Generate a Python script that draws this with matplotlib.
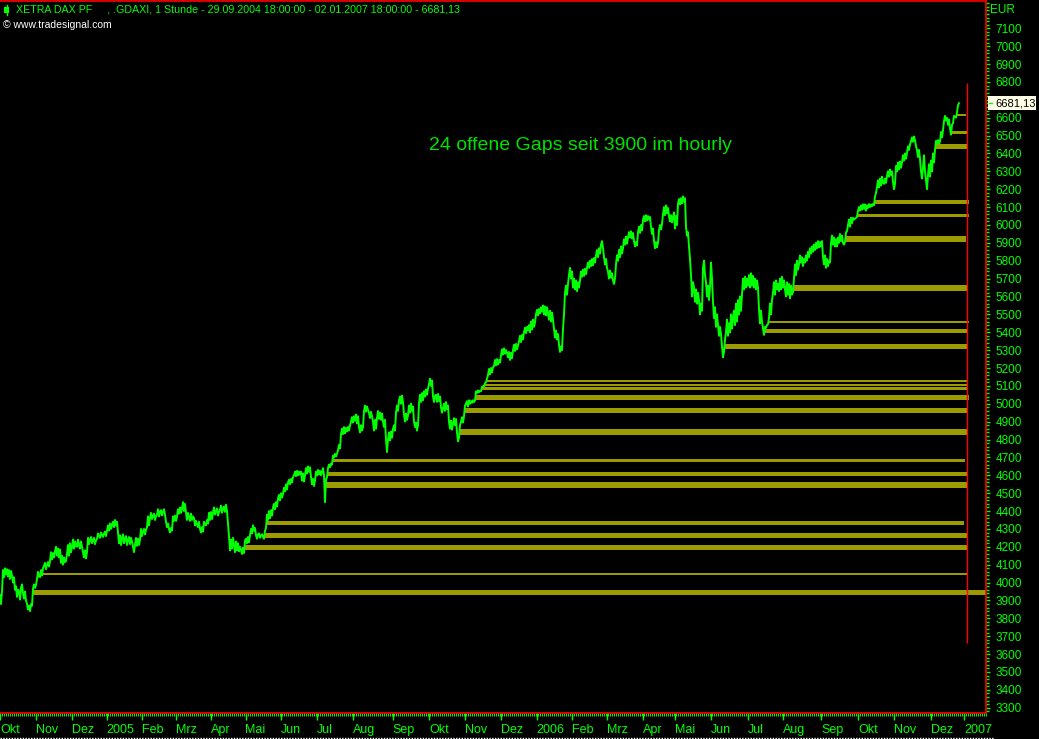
import numpy as np
import matplotlib
matplotlib.use("Agg")
import matplotlib.pyplot as plt
from matplotlib.ticker import MultipleLocator
from matplotlib.transforms import blended_transform_factory
from matplotlib.lines import Line2D
from matplotlib.patches import Rectangle

# ---------------- DATA ----------------
# x positions are chart bar-block positions (one block ~ 5 hourly bars), starting 29.09.2004
dax_part01 = [3930, 3880, 3950, 4070, 4030, 4080, 4045, 4075, 4035, 4070,
              4020, 4065, 4040, 4000, 4030, 3960, 3980, 3920, 3960, 3950,
              3905, 3970, 3990, 3940, 3910, 3950, 3900, 3880, 3850, 3870,
              3840, 3880, 3870, 3965, 3990, 3970, 3985, 4020, 4060, 4035,
              4030, 4070, 4040, 4080, 4095, 4110, 4075, 4100, 4115, 4090,
              4120, 4170, 4130, 4165, 4140, 4175, 4200, 4150, 4190, 4140]
dax_part02 = [4185, 4110, 4150, 4100, 4140, 4115, 4120, 4160, 4210, 4150,
              4220, 4170, 4200, 4240, 4190, 4230, 4205, 4200, 4240, 4210,
              4190, 4230, 4200, 4170, 4140, 4180, 4135, 4170, 4250, 4215,
              4240, 4255, 4220, 4240, 4250, 4215, 4235, 4245, 4275, 4260,
              4250, 4280, 4265, 4255, 4275, 4285, 4260, 4290, 4320, 4290,
              4330, 4300, 4325, 4340, 4310, 4350, 4320, 4340, 4280, 4220]
dax_part03 = [4265, 4210, 4250, 4270, 4220, 4245, 4260, 4210, 4240, 4255,
              4215, 4250, 4230, 4200, 4170, 4210, 4250, 4205, 4245, 4210,
              4240, 4300, 4260, 4285, 4300, 4270, 4295, 4310, 4370, 4320,
              4360, 4390, 4355, 4375, 4385, 4350, 4370, 4380, 4410, 4370,
              4395, 4405, 4375, 4395, 4410, 4380, 4340, 4310, 4330, 4300,
              4280, 4305, 4290, 4370, 4345, 4375, 4345, 4370, 4410, 4385]
dax_part04 = [4420, 4390, 4415, 4450, 4400, 4440, 4390, 4350, 4390, 4365,
              4345, 4385, 4350, 4370, 4360, 4320, 4345, 4325, 4310, 4340,
              4300, 4280, 4310, 4285, 4340, 4325, 4320, 4350, 4330, 4390,
              4350, 4395, 4355, 4390, 4420, 4380, 4400, 4415, 4375, 4395,
              4410, 4430, 4390, 4415, 4425, 4395, 4435, 4400, 4330, 4260,
              4180, 4240, 4190, 4250, 4210, 4170, 4230, 4180, 4220, 4175]
dax_part05 = [4200, 4185, 4160, 4195, 4165, 4235, 4245, 4220, 4255, 4225,
              4265, 4300, 4275, 4320, 4290, 4305, 4265, 4245, 4270, 4275,
              4250, 4265, 4270, 4255, 4245, 4290, 4305, 4380, 4350, 4400,
              4360, 4405, 4375, 4420, 4440, 4410, 4450, 4425, 4470, 4490,
              4460, 4500, 4475, 4495, 4530, 4510, 4550, 4520, 4560, 4575,
              4550, 4580, 4560, 4590, 4600, 4620, 4595, 4625, 4600, 4620]
dax_part06 = [4605, 4620, 4570, 4610, 4565, 4600, 4640, 4610, 4650, 4620,
              4645, 4590, 4550, 4580, 4540, 4570, 4620, 4600, 4630, 4605,
              4625, 4600, 4620, 4640, 4600, 4450, 4575, 4590, 4640, 4660,
              4645, 4665, 4660, 4710, 4700, 4720, 4705, 4720, 4740, 4770,
              4750, 4830, 4860, 4830, 4870, 4835, 4865, 4845, 4870, 4850,
              4880, 4900, 4925, 4895, 4930, 4905, 4940, 4890, 4930, 4870]
dax_part07 = [4840, 4880, 4850, 4870, 4960, 4990, 4955, 4985, 4965, 4950,
              4920, 4955, 4930, 4900, 4850, 4910, 4860, 4920, 4960, 4915,
              4950, 4910, 4945, 4900, 4870, 4910, 4800, 4730, 4800, 4840,
              4795, 4845, 4810, 4860, 4880, 4850, 4950, 4990, 4960, 5020,
              5040, 5000, 5045, 5010, 4940, 4900, 4945, 4910, 4935, 4990,
              4950, 5000, 4960, 4985, 4900, 4870, 4895, 4850, 4880, 5000]
dax_part08 = [5050, 5010, 5060, 5020, 5070, 5040, 5080, 5050, 5085, 5110,
              5140, 5100, 5130, 5040, 5010, 5045, 5050, 5010, 5055, 5015,
              5040, 4980, 4950, 4975, 5000, 4960, 5010, 4970, 4990, 4900,
              4860, 4905, 4855, 4890, 4920, 4880, 4915, 4840, 4790, 4810,
              4880, 4900, 4925, 4895, 4930, 4990, 5000, 5015, 4985, 5020,
              5000, 5015, 5005, 5020, 5010, 5018, 5070, 5060, 5075, 5065]
dax_part09 = [5072, 5070, 5095, 5098, 5097, 5115, 5120, 5140, 5160, 5195,
              5165, 5200, 5175, 5205, 5210, 5245, 5215, 5250, 5220, 5245,
              5230, 5270, 5305, 5275, 5310, 5280, 5300, 5285, 5260, 5290,
              5245, 5285, 5255, 5300, 5330, 5295, 5335, 5305, 5325, 5350,
              5380, 5345, 5385, 5360, 5400, 5425, 5395, 5430, 5410, 5440,
              5400, 5460, 5415, 5470, 5430, 5455, 5500, 5525, 5495, 5530]
dax_part10 = [5505, 5540, 5515, 5550, 5500, 5545, 5495, 5540, 5505, 5470,
              5520, 5460, 5510, 5470, 5420, 5370, 5410, 5360, 5390, 5330,
              5290, 5320, 5300, 5420, 5500, 5620, 5660, 5610, 5670, 5720,
              5760, 5700, 5740, 5650, 5700, 5640, 5690, 5630, 5680, 5650,
              5690, 5740, 5710, 5750, 5715, 5755, 5725, 5760, 5790, 5760,
              5800, 5770, 5810, 5775, 5815, 5790, 5830, 5860, 5820, 5870]
dax_part11 = [5840, 5890, 5910, 5870, 5820, 5780, 5810, 5760, 5740, 5700,
              5745, 5705, 5730, 5690, 5670, 5700, 5780, 5830, 5800, 5860,
              5820, 5880, 5840, 5870, 5920, 5890, 5935, 5895, 5930, 5960,
              5930, 5965, 5925, 5955, 5910, 5880, 5905, 5885, 5960, 5990,
              5955, 6000, 5970, 6030, 6050, 6020, 6055, 6025, 6050, 6030,
              6045, 5990, 5950, 5980, 5910, 5870, 5905, 5875, 5900, 5970]
dax_part12 = [6000, 5975, 6005, 6060, 6100, 6055, 6110, 6065, 6095, 6050,
              6020, 6055, 6015, 6040, 6070, 5980, 6050, 6000, 6120, 6145,
              6115, 6150, 6120, 6160, 6130, 6150, 5990, 5940, 5960, 5880,
              5810, 5720, 5600, 5680, 5650, 5570, 5640, 5560, 5620, 5580,
              5500, 5560, 5520, 5760, 5800, 5720, 5680, 5600, 5660, 5580,
              5650, 5790, 5700, 5570, 5480, 5540, 5430, 5500, 5440, 5380]
dax_part13 = [5430, 5390, 5320, 5260, 5290, 5360, 5400, 5470, 5380, 5450,
              5400, 5500, 5420, 5480, 5520, 5440, 5560, 5460, 5580, 5500,
              5600, 5520, 5610, 5700, 5640, 5710, 5650, 5700, 5660, 5720,
              5650, 5730, 5660, 5715, 5650, 5700, 5640, 5690, 5650, 5530,
              5450, 5520, 5460, 5420, 5385, 5430, 5425, 5440, 5445, 5480,
              5560, 5500, 5580, 5620, 5680, 5610, 5690, 5640, 5670, 5630]
dax_part14 = [5700, 5640, 5710, 5650, 5690, 5640, 5600, 5680, 5610, 5670,
              5590, 5660, 5610, 5625, 5700, 5780, 5720, 5800, 5750, 5780,
              5830, 5790, 5820, 5770, 5810, 5790, 5830, 5800, 5850, 5820,
              5870, 5840, 5880, 5850, 5890, 5860, 5900, 5870, 5910, 5875,
              5905, 5880, 5910, 5820, 5780, 5830, 5760, 5810, 5770, 5800,
              5790, 5900, 5940, 5890, 5930, 5880, 5920, 5880, 5930, 5900]
dax_part15 = [5950, 5910, 5940, 5900, 5890, 5905, 5960, 5965, 6000, 6030,
              5990, 6040, 6010, 6040, 6030, 6035, 6040, 6045, 6080, 6100,
              6080, 6110, 6085, 6115, 6090, 6115, 6080, 6110, 6095, 6117,
              6100, 6115, 6105, 6117, 6110, 6160, 6180, 6210, 6250, 6210,
              6260, 6220, 6270, 6235, 6230, 6260, 6235, 6275, 6300, 6270,
              6310, 6280, 6300, 6240, 6200, 6230, 6330, 6300, 6350, 6310]
dax_part16 = [6355, 6320, 6350, 6390, 6360, 6400, 6370, 6405, 6440, 6420,
              6450, 6470, 6490, 6465, 6495, 6475, 6440, 6420, 6380, 6420,
              6370, 6300, 6260, 6320, 6390, 6300, 6250, 6200, 6280, 6340,
              6270, 6360, 6300, 6400, 6350, 6420, 6470, 6455, 6475, 6455,
              6465, 6520, 6490, 6530, 6580, 6610, 6585, 6600, 6560, 6590,
              6540, 6505, 6560, 6570, 6610, 6605, 6600, 6630, 6670, 6681.13]

last_price = 6681.13

# open gaps: start position, lower/upper price, end position
gap_start = [487, 485, 482, 476, 465, 460, 333, 328, 326, 267, 265, 245,
             43, 33, 875, 858, 846, 794, 769, 765, 725, 957, 952, 936]
gap_low = [5122, 5100, 5077, 5021, 4948, 4825, 4674, 4597, 4529, 4322, 4250, 4183,
           4043, 3931, 6117, 6045, 5905, 5631, 5452, 5396, 5306, 6609, 6509, 6425]
gap_high = [5133, 5111, 5092, 5049, 4976, 4859, 4692, 4620, 4563, 4345, 4278, 4211,
            4054, 3959, 6139, 6061, 5938, 5664, 5463, 5418, 5334, 6620, 6525, 6453]
gap_end = [967, 967, 967, 969, 967, 967, 965, 967, 967, 964, 967, 967,
           967, 990, 969, 969, 966, 967, 969, 967, 967, 966, 967, 967]

month_pos = [0, 36, 72, 106.7, 141.7, 176, 210.5, 245.5, 281, 317, 353.3, 392.7,
             429.3, 464.7, 501.3, 536.7, 572, 606.7, 643.3, 675.3, 710.7, 748,
             783.3, 821.3, 858, 894, 930.7, 964]
month_labels = ["Okt", "Nov", "Dez", "2005", "Feb", "Mrz", "Apr", "Mai", "Jun", "Jul",
                "Aug", "Sep", "Okt", "Nov", "Dez", "2006", "Feb", "Mrz", "Apr", "Mai",
                "Jun", "Jul", "Aug", "Sep", "Okt", "Nov", "Dez", "2007"]
y_ticks = list(range(3300, 7101, 100))
hidden_y_label = 6700   # covered by the last-price box in the reference

end_marker_pos = 967
end_marker_low, end_marker_high = 3663, 6794

# ---------------- STYLE ----------------
GREEN = "#00ff00"
OLIVE = "#9c9c00"
RED = "#ff0000"
FONT = ["Liberation Sans", "DejaVu Sans"]
plt.rcParams["font.family"] = FONT

dax = np.concatenate([dax_part01, dax_part02, dax_part03, dax_part04,
                      dax_part05, dax_part06, dax_part07, dax_part08,
                      dax_part09, dax_part10, dax_part11, dax_part12,
                      dax_part13, dax_part14, dax_part15, dax_part16]).astype(float)
xpos = np.arange(len(dax))

W, H = 1039, 739
fig = plt.figure(figsize=(W / 100, H / 100), dpi=100, facecolor="black")
ax = fig.add_axes([0, 26 / H, 986 / W, 712 / H])
ax.set_facecolor("black")
ax.set_xlim(0, 986)
ax.set_ylim(3270.5, 7252.7)

# gaps
gs = np.array(gap_start, float)
ge = np.array(gap_end, float)
gl = np.array(gap_low, float)
gh = np.array(gap_high, float)
ax.barh((gl + gh) / 2, ge - gs, height=gh - gl, left=gs, color=OLIVE,
        linewidth=0, zorder=1)

# price line
ax.plot(xpos, dax, color=GREEN, lw=1.4, zorder=3)

# red end marker line
ax.vlines(end_marker_pos, end_marker_low, end_marker_high, colors=RED, lw=1, zorder=4)

# annotation
ax.text(580, 6442, "24 offene Gaps seit 3900 im hourly", color="#00e000",
        fontsize=14, ha="center", va="center", zorder=5)

# spines
for s in ["top", "right", "bottom"]:
    ax.spines[s].set_color(RED)
    ax.spines[s].set_linewidth(1.2)
ax.spines["left"].set_visible(False)

# y axis
ax.yaxis.tick_right()
ax.set_yticks(y_ticks)
ax.set_yticklabels(["" if v == hidden_y_label else str(v) for v in y_ticks])
ax.yaxis.set_minor_locator(MultipleLocator(20))
ax.tick_params(axis="y", which="major", colors=GREEN, length=3, width=1,
               pad=4, labelsize=8.5, direction="out")
ax.tick_params(axis="y", which="minor", colors=GREEN, length=2, width=1,
               direction="out")

# x axis
ax.set_xticks(month_pos)
ax.set_xticklabels(month_labels, ha="left")
ax.xaxis.set_minor_locator(MultipleLocator(2))
ax.tick_params(axis="x", which="major", colors=GREEN, length=5, width=1,
               pad=3, labelsize=9)
ax.tick_params(axis="x", which="minor", colors=GREEN, length=2, width=0.7)

# current price label
trans = blended_transform_factory(ax.transAxes, ax.transData)
ax.add_patch(Rectangle((1.0025, last_price - 39), 0.048, 78, transform=trans,
                       facecolor="#ffffe8", edgecolor="none", clip_on=False, zorder=9))
ax.text(1.0095, last_price, "6681,13", transform=trans, color="black", fontsize=8,
        ha="left", va="center", clip_on=False, zorder=10)
ax.plot([1.0035, 1.0065], [last_price, last_price], transform=trans, color=GREEN,
        lw=1, clip_on=False, zorder=10)

# header
fig.add_artist(Rectangle((4 / W, 1 - 13 / H), 5 / W, 6 / H, transform=fig.transFigure,
                         facecolor=GREEN, edgecolor="none"))
fig.add_artist(Line2D([6.5 / W, 6.5 / W], [1 - 15 / H, 1 - 5 / H],
                      transform=fig.transFigure, color=GREEN, lw=1))
fig.text(16 / W, 1 - 10 / H,
         "XETRA DAX PF     , .GDAXI, 1 Stunde - 29.09.2004 18:00:00 - 02.01.2007 18:00:00 - 6681,13",
         color=GREEN, fontsize=7.7, va="center", ha="left")
fig.text(3 / W, 1 - 25 / H, "\u00a9 www.tradesignal.com", color="white", fontsize=7.5,
         va="center", ha="left")
fig.text(990 / W, 1 - 10 / H, "EUR", color=GREEN, fontsize=8.5, va="center", ha="left")

# bottom dotted line
fig.add_artist(Line2D([0, 993 / W], [1.5 / H, 1.5 / H], transform=fig.transFigure,
                      color="white", lw=1, linestyle=(0, (1, 1))))

fig.savefig("out.png", dpi=100, facecolor="black")
